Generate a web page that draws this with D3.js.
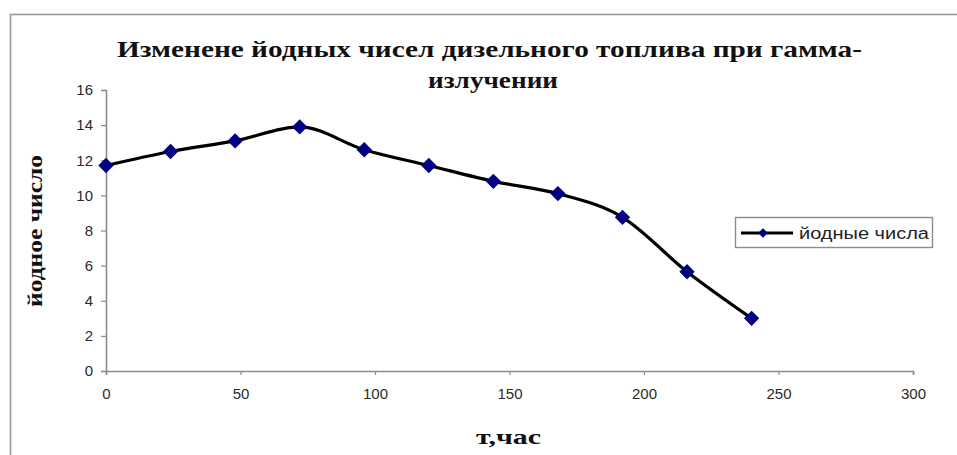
<!DOCTYPE html>
<html>
<head>
<meta charset="utf-8">
<script src="https://cdn.jsdelivr.net/npm/d3@7"></script>
<style>
  html, body { margin: 0; padding: 0; background: #fff; }
  svg { display: block; }
</style>
</head>
<body>
<svg id="chart" width="957" height="455"></svg>
<script>
// Iodine number of diesel fuel vs. gamma-irradiation time
const hours = [0, 24, 48, 72, 96, 120, 144, 168, 192, 216, 240];
const iodine = [11.7, 12.5, 13.1, 13.9, 12.6, 11.7, 10.8, 10.1, 8.75, 5.65, 3.0];
const xTicks = [0, 50, 100, 150, 200, 250, 300];
const yTicks = [0, 2, 4, 6, 8, 10, 12, 14, 16];
const titleLines = ["Изменене йодных чисел дизельного топлива при гамма-", "излучении"];
const xTitle = "т,час";
const yTitle = "йодное число";
const seriesName = "йодные числа";

const svg = d3.select("#chart");
const serif = "'Liberation Serif', 'Times New Roman', serif";
const sans = "'Liberation Sans', Arial, sans-serif";

// outer chart frame
svg.append("rect")
  .attr("x", 10.5).attr("y", 14.5)
  .attr("width", 960).attr("height", 460)
  .attr("fill", "none").attr("stroke", "#9a9a9a").attr("stroke-width", 1.6);

const x = d3.scaleLinear().domain([0, 300]).range([106, 913]);
const y = d3.scaleLinear().domain([0, 16]).range([371, 90]);

// title
const title = svg.append("g").attr("font-family", serif).attr("font-weight", "bold")
  .attr("font-size", 24).attr("fill", "#111");
title.append("text").attr("x", 117).attr("y", 57)
  .attr("textLength", 745).attr("lengthAdjust", "spacingAndGlyphs")
  .text(titleLines[0]);
title.append("text").attr("x", 428).attr("y", 88)
  .attr("textLength", 130).attr("lengthAdjust", "spacingAndGlyphs")
  .text(titleLines[1]);

// axes
const axisColor = "#8c8c8c";
const gx = svg.append("g").attr("transform", `translate(0,${y(0)})`)
  .call(d3.axisBottom(x).tickValues(xTicks).tickSize(4).tickPadding(13));
const gy = svg.append("g").attr("transform", `translate(${x(0)},0)`)
  .call(d3.axisLeft(y).tickValues(yTicks).tickSize(5).tickPadding(8));
[gx, gy].forEach(g => {
  g.select(".domain").attr("stroke", axisColor).attr("stroke-width", 1.6);
  g.selectAll(".tick line").attr("stroke", axisColor).attr("stroke-width", 1.2);
  g.selectAll(".tick text").attr("font-family", sans).attr("font-size", 15)
    .attr("fill", "#2a2a2a");
});

// axis titles
svg.append("text").attr("x", 476).attr("y", 444)
  .attr("font-family", serif)
  .attr("font-weight", "bold").attr("font-size", 21).attr("fill", "#111")
  .attr("textLength", 65).attr("lengthAdjust", "spacingAndGlyphs")
  .text(xTitle);
svg.append("text")
  .attr("transform", `translate(42,307) rotate(-90)`)
  .attr("font-family", serif)
  .attr("font-weight", "bold").attr("font-size", 20).attr("fill", "#111")
  .attr("textLength", 152).attr("lengthAdjust", "spacingAndGlyphs")
  .text(yTitle);

// series line
const pts = hours.map((h, i) => [h, iodine[i]]);
const line = d3.line().x(d => x(d[0])).y(d => y(d[1])).curve(d3.curveMonotoneX);
svg.append("path").datum(pts).attr("d", line)
  .attr("fill", "none").attr("stroke", "#000").attr("stroke-width", 3.2)
  .attr("stroke-linejoin", "round");

// diamond markers
const diamond = d3.symbol().type(d3.symbolDiamond2).size(150);
svg.append("g").selectAll("path").data(pts).join("path")
  .attr("transform", d => `translate(${x(d[0])},${y(d[1])})`)
  .attr("d", diamond).attr("fill", "#000080");

// legend
const lg = svg.append("g");
lg.append("rect").attr("x", 735.5).attr("y", 217.5).attr("width", 197).attr("height", 30)
  .attr("fill", "#fff").attr("stroke", "#8c8c8c").attr("stroke-width", 1.4);
lg.append("line").attr("x1", 741).attr("x2", 793).attr("y1", 233).attr("y2", 233)
  .attr("stroke", "#000").attr("stroke-width", 3.2);
lg.append("path").attr("transform", "translate(763,233)")
  .attr("d", d3.symbol().type(d3.symbolDiamond2).size(60)).attr("fill", "#000080");
lg.append("text").attr("x", 799).attr("y", 239)
  .attr("font-family", sans).attr("font-size", 16).attr("fill", "#222")
  .attr("textLength", 130).attr("lengthAdjust", "spacingAndGlyphs")
  .text(seriesName);
</script>
</body>
</html>
